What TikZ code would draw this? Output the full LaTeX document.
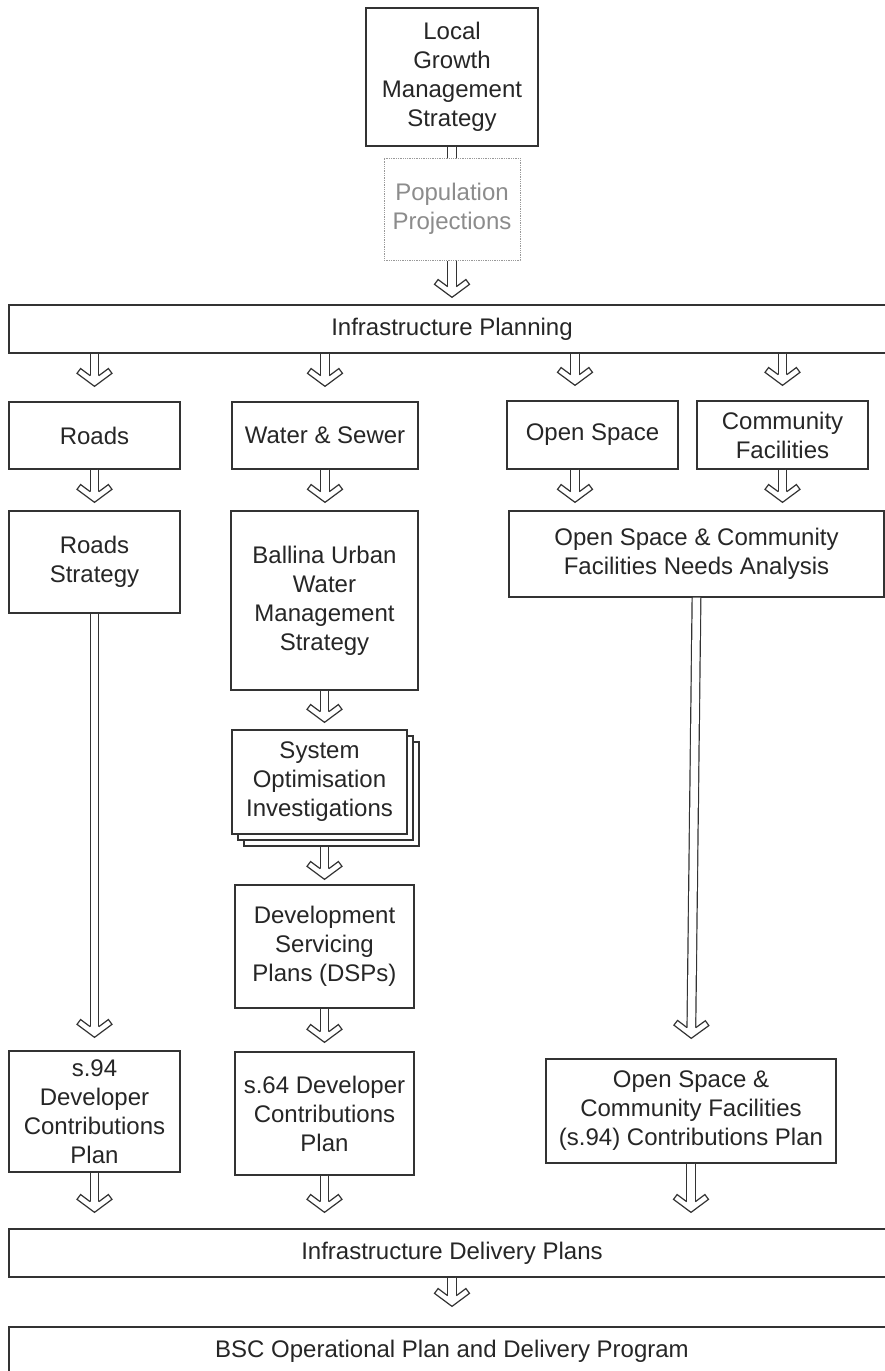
\documentclass[tikz,border=0pt]{standalone}
\usepackage{fontspec}
\setmainfont{Liberation Sans}
\usetikzlibrary{arrows.meta,shadows}

% hollow chevron head for the double shafts
\pgfdeclarearrow{
  name = Chevron,
  setup code = {
    \pgfarrowssettipend{0pt}
    \pgfarrowssetlineend{-10.5pt}
    \pgfarrowssetvisualbackend{-18pt}
    \pgfarrowssetbackend{-18pt}
    \pgfarrowshullpoint{0pt}{0pt}
    \pgfarrowshullpoint{-13pt}{17.5pt}
    \pgfarrowshullpoint{-13pt}{-17.5pt}
    \pgfarrowshullpoint{-18pt}{14pt}
    \pgfarrowshullpoint{-18pt}{-14pt}
  },
  drawing code = {
    \pgfsetlinewidth{1.2pt}
    \pgfsetfillcolor{white}
    \pgfsetmiterjoin
    \pgfpathmoveto{\pgfpoint{-10.7pt}{4.35pt}}
    \pgfpathlineto{\pgfpoint{-17.8pt}{13.9pt}}
    \pgfpathlineto{\pgfpoint{-13pt}{17.5pt}}
    \pgfpathlineto{\pgfpoint{0pt}{0pt}}
    \pgfpathlineto{\pgfpoint{-13pt}{-17.5pt}}
    \pgfpathlineto{\pgfpoint{-17.8pt}{-13.9pt}}
    \pgfpathlineto{\pgfpoint{-10.7pt}{-4.35pt}}
    \pgfusepathqfillstroke
  }
}

\tikzset{
  box/.style={draw=black!80,line width=1.3pt,fill=white,align=center,inner sep=0pt,
    font=\fontsize{24}{29}\selectfont,text=black!85},
  ghost/.style={box,draw=black!40,densely dotted,line width=1pt,text=black!45},
  flow/.style={draw=black!80,line width=1.2pt,double,double distance=7.5pt,
    -Chevron,shorten >=8pt},
  link/.style={draw=black!80,line width=1.2pt,double,double distance=7.5pt},
}

\begin{document}
\begin{tikzpicture}[x=1pt,y=-1pt]
\useasboundingbox (0,0) rectangle (885,1371);
\clip (0,0) rectangle (885,1371);
% top
\node[box,minimum width=172pt,minimum height=138pt] (lgms) at (452,77) {Local\\Growth\\Management\\Strategy};
\node[ghost,minimum width=136pt,minimum height=102pt] (pp) at (452,209) {Population\\Projections};
\node[box,minimum width=886pt,minimum height=48pt] (ip) at (452,329) {Infrastructure Planning};
% first row
\node[box,minimum width=171pt,minimum height=67pt] (roads) at (94.5,435.5) {Roads};
\node[box,minimum width=186pt,minimum height=67pt] (ws) at (325,435.5) {Water \& Sewer};
\node[box,minimum width=171pt,minimum height=68pt] (os) at (592.5,435) {Open Space};
\node[box,minimum width=171pt,minimum height=68pt] (cf) at (782.5,435) {Community\\Facilities};
\coordinate (osx) at (575,435);
% strategies
\node[box,minimum width=171pt,minimum height=102pt] (rs) at (94.5,562) {Roads\\Strategy};
\node[box,minimum width=187pt,minimum height=179pt] (buwms) at (324.5,600.5) {Ballina Urban\\Water\\Management\\Strategy};
\node[box,minimum width=375pt,minimum height=86pt] (na) at (696.5,554) {Open Space \& Community\\Facilities Needs Analysis};
\node[box,minimum width=175pt,minimum height=104pt,
  double copy shadow={shadow xshift=6pt,shadow yshift=-6pt,draw=black!80,line width=1.3pt,fill=white}] (soi) at (319.5,782) {System\\Optimisation\\Investigations};
\node[box,minimum width=179pt,minimum height=123pt] (dsp) at (324.5,946.5) {Development\\Servicing\\Plans (DSPs)};
% contributions plans
\node[box,minimum width=171pt,minimum height=121pt] (s94) at (94.5,1111.5) {s.94\\Developer\\Contributions\\Plan};
\node[box,minimum width=179pt,minimum height=123pt] (s64) at (324.5,1113.5) {s.64 Developer\\Contributions\\Plan};
\node[box,minimum width=290pt,minimum height=104pt] (oscf) at (691,1111) {Open Space \&\\Community Facilities\\(s.94) Contributions Plan};
% bottom
\node[box,minimum width=886pt,minimum height=48pt] (idp) at (452,1253) {Infrastructure Delivery Plans};
\node[box,minimum width=886pt,minimum height=48pt] (bsc) at (452,1351) {BSC Operational Plan and Delivery Program};

\draw[link] (lgms) -- (pp);
\draw[flow,shorten >=7pt] (pp) -- (ip);
\draw[flow,shorten >=15pt] (ip.south -| roads) -- (roads.north);
\draw[flow,shorten >=15pt] (ip.south -| ws) -- (ws.north);
\draw[flow,shorten >=15pt] (ip.south -| osx) -- (os.north -| osx);
\draw[flow,shorten >=15pt] (ip.south -| cf) -- (cf.north);
\draw[flow] (roads) -- (rs);
\draw[flow] (ws.south) -- (buwms.north -| ws);
\draw[flow] (os.south -| osx) -- (na.north -| osx);
\draw[flow] (cf.south) -- (na.north -| cf);
\draw[flow,shorten >=13pt] (rs) -- (s94);
\draw[flow,shorten >=7pt] (buwms.south) -- (soi.north -| buwms);
\draw[flow,shorten >=5pt] ([yshift=-12pt]soi.south -| buwms) -- (dsp.north -| buwms);
\draw[flow,shorten >=20pt] (na.south) -- (oscf.north);
\draw[flow,shorten >=9pt] (dsp) -- (s64);
\draw[flow,shorten >=16pt] (s94.south) -- (idp.north -| s94);
\draw[flow,shorten >=16pt] (s64.south) -- (idp.north -| s64);
\draw[flow,shorten >=16pt] (oscf.south) -- (idp.north -| oscf);
\draw[flow,shorten >=20pt] (idp) -- (bsc);
\end{tikzpicture}
\end{document}
